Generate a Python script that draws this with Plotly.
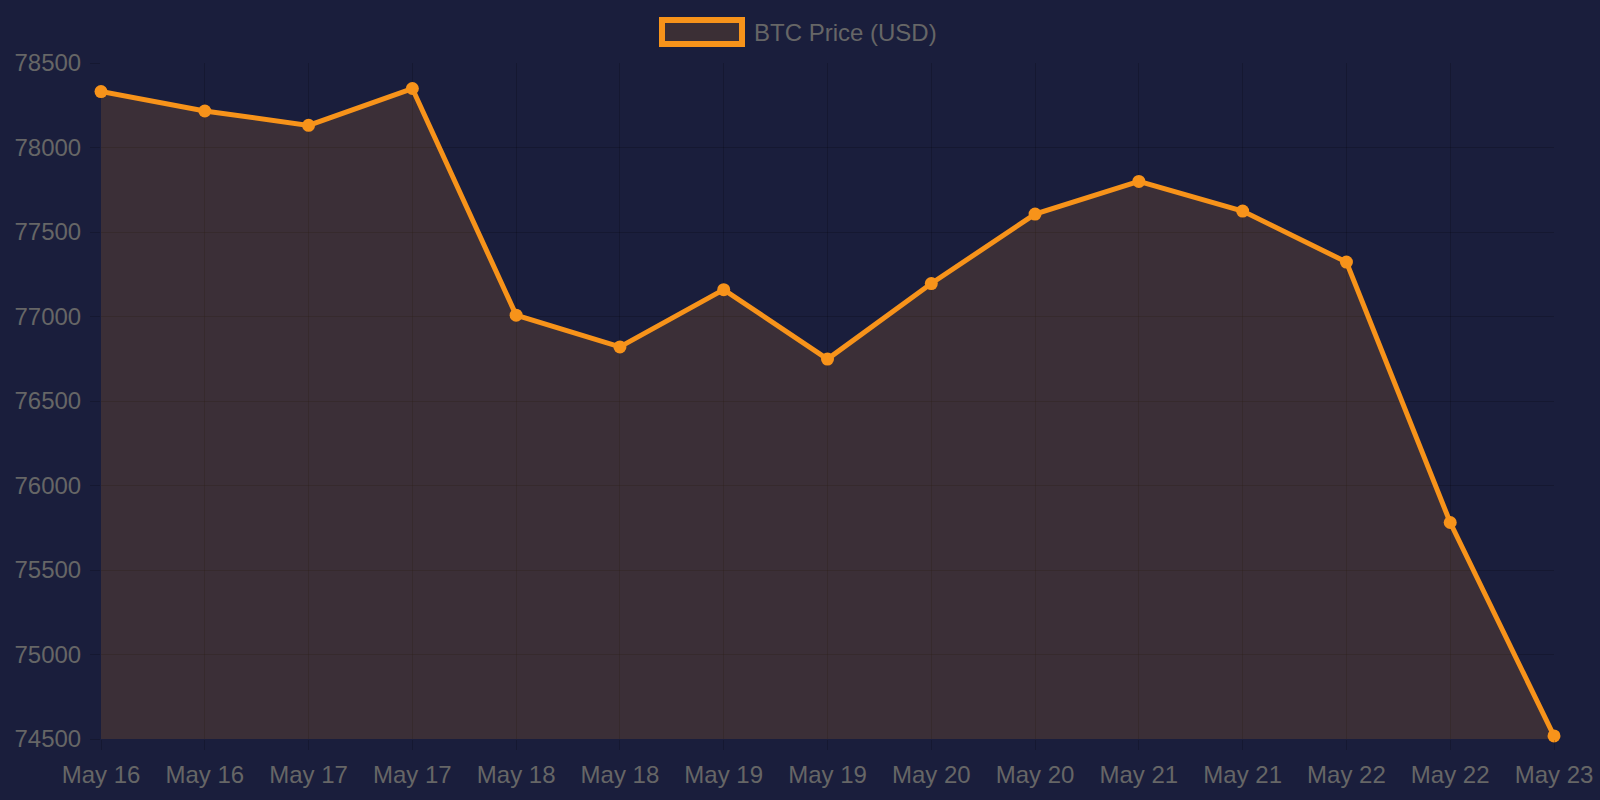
import plotly.graph_objects as go

labels = ["May 16", "May 16", "May 17", "May 17", "May 18", "May 18", "May 19", "May 19",
          "May 20", "May 20", "May 21", "May 21", "May 22", "May 22", "May 23"]
prices = [78331, 78216, 78131, 78349, 77008, 76820, 77159, 76748,
          77195, 77606, 77799, 77624, 77322, 75781, 74518]
y_ticks = [74500, 75000, 75500, 76000, 76500, 77000, 77500, 78000, 78500]

BG = "#1a1e3c"
ORANGE = "#f7931a"
FILL = "rgba(247,147,26,0.15)"
GRID = "rgba(0,0,0,0.18)"
TXT = "#666666"

xs = list(range(len(prices)))

fig = go.Figure()
fig.add_trace(go.Scatter(
    x=xs, y=prices, mode="lines+markers", fill="tozeroy", fillcolor=FILL,
    line=dict(color=ORANGE, width=5), marker=dict(color=ORANGE, size=13),
    cliponaxis=False, showlegend=False, hoverinfo="y"))

fig.update_layout(
    width=1600, height=800,
    paper_bgcolor=BG, plot_bgcolor=BG,
    margin=dict(l=101, r=46, t=63, b=61),
    font=dict(family="Liberation Sans, Arial, sans-serif", size=24, color=TXT),
    showlegend=False,
    xaxis=dict(range=[0, len(prices) - 1], tickmode="array", tickvals=xs, ticktext=labels,
               showgrid=True, gridcolor=GRID, gridwidth=1, zeroline=False,
               ticks="outside", ticklen=10, tickcolor=GRID, showline=False,
               ticklabelstandoff=4, automargin=False),
    yaxis=dict(range=[74500, 78500], tickmode="array", tickvals=y_ticks,
               ticktext=[str(v) for v in y_ticks],
               showgrid=True, gridcolor=GRID, gridwidth=1, zeroline=False,
               ticks="outside", ticklen=10, tickcolor=GRID, showline=False,
               ticklabelstandoff=4, automargin=False),
)

# legend drawn as shape + text
fig.add_shape(type="rect", xref="paper", yref="paper",
              x0=(662 - 101) / 1453, x1=(742 - 101) / 1453,
              y0=(739 - 44) / 676, y1=(739 - 20) / 676,
              line=dict(color=ORANGE, width=6), fillcolor="#3b2f35", layer="above")
fig.add_annotation(xref="paper", yref="paper", x=(752 - 101) / 1453, y=(739 - 32) / 676,
                   text="BTC Price (USD)", showarrow=False, xanchor="left", yanchor="middle",
                   font=dict(size=24, color=TXT))

fig.write_html("out.html")
